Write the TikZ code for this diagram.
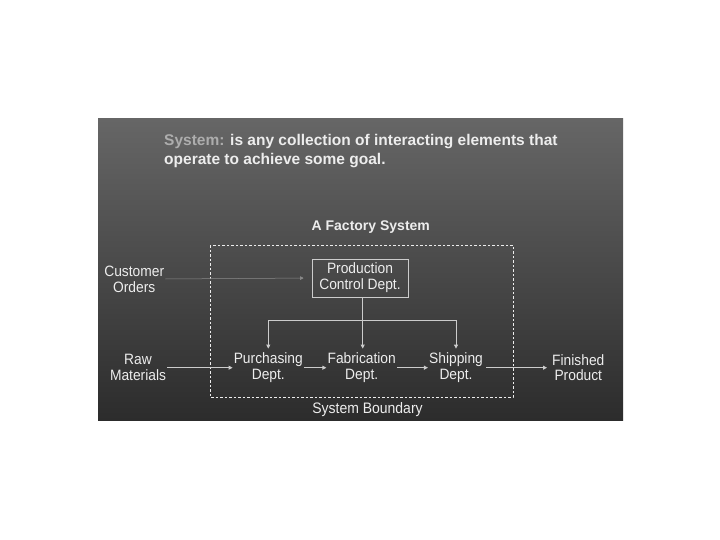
\documentclass[tikz,border=0pt]{standalone}
\usepackage{fontspec}
\setmainfont{Liberation Sans}
\newfontfamily\tallsans[FakeStretch=0.92]{Liberation Sans}
\usetikzlibrary{arrows.meta}
\definecolor{txt}{gray}{0.93}
\definecolor{sysgray}{gray}{0.68}
\definecolor{linec}{gray}{0.80}
\definecolor{faint}{gray}{0.55}
\begin{document}
\begin{tikzpicture}[x=1pt,y=-1pt,
  lbl/.style={align=center,font=\tallsans\fontsize{15}{15.8}\selectfont,text=txt,inner sep=1pt},
  flow/.style={draw=linec,line width=0.9pt,-{Triangle[length=4pt,width=4pt]}},
  thin flow/.style={draw=faint,line width=0.5pt,-{Triangle[length=3.5pt,width=3.5pt]}},
  boundary/.style={draw=txt,line width=0.7pt,dash pattern=on 2.5pt off 2pt}]
\useasboundingbox (0,0) rectangle (720,540);
\fill[white] (0,0) rectangle (720,540);
\shade[top color={rgb,255:red,102;green,102;blue,102},bottom color={rgb,255:red,44;green,44;blue,44}] (98,119) rectangle (623,420);
% title
\node[anchor=north west,inner sep=0pt,align=left,text=txt,font=\bfseries\fontsize{15.5}{18.3}\selectfont] (title) at (164,134.5)
  {\textcolor{sysgray}{System:} is any collection of interacting elements that\\operate to achieve some goal.};
\node[anchor=base,inner sep=0pt,text=txt,font=\bfseries\fontsize{14}{16}\selectfont] (fs) at (370.8,230.7) {A Factory System};
% boundary
\draw[boundary] (210,245) rectangle (513,397);
\node[anchor=base,inner sep=0pt,text=txt,font=\tallsans\fontsize{15.2}{16}\selectfont] (sb) at (367.5,413) {System Boundary};
% nodes
\node[draw=linec,line width=0.8pt,minimum width=96pt,minimum height=38pt,inner sep=0pt,align=center,text=txt,font=\tallsans\fontsize{15}{15.8}\selectfont] (pc) at (360,278) {Production\\Control Dept.};
\node[lbl] (co) at (134.2,279) {Customer\\Orders};
\node[lbl] (rm) at (138,367.7) {Raw\\Materials};
\node[lbl] (pur) at (268.3,367.7) {Purchasing\\Dept.};
\node[lbl] (fab) at (361.7,367.7) {Fabrication\\Dept.};
\node[lbl] (ship) at (456,367.7) {Shipping\\Dept.};
\node[lbl] (fin) at (578.3,367.7) {Finished\\Product};
\coordinate (bus) at (362.7,320);
% connectors
\draw[thin flow,shorten >=8pt] (co.east) -- (pc.west);
\draw[flow] (rm.east) -- (pur.west);
\draw[flow] (pur.east) -- (fab.west);
\draw[flow] (fab.east) -- (ship.west);
\draw[flow,shorten <=2pt,shorten >=4pt] (ship.east) -- (fin.west);
\draw[flow,shorten >=3pt] (bus |- pc.south) -- (bus |- fab.north);
\draw[flow,shorten >=3pt] (bus) -| (pur.north);
\draw[flow,shorten >=3pt] (bus) -| (ship.north);
\end{tikzpicture}
\end{document}
